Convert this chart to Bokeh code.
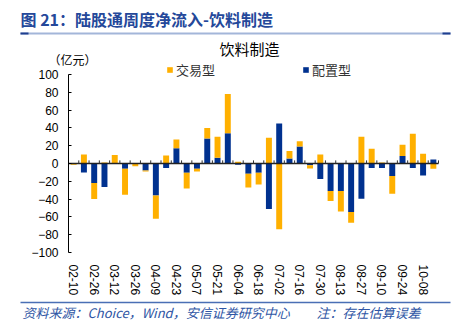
from bokeh.plotting import figure
from bokeh.models import (Range1d, FixedTicker, Label, BoxAnnotation, Span, Legend, LegendItem)
from bokeh.embed import file_html
from bokeh.resources import INLINE

# ---- data ----
tick_labels = ["02-10", "02-26", "03-12", "03-26", "04-09", "04-23", "05-07", "05-21", "06-04",
               "06-18", "07-02", "07-16", "07-30", "08-13", "08-27", "09-10", "09-24", "10-08"]
allocation = [0, -10, -22, -26.5, 0.5, -6, 0, -8, -36, -5, 17, -10.5, -6, 28, 6.5, 34, -1.5, -11.5,
              -10.5, -51, 45, 5.5, 19, -2, -17.5, -31, -31, -54.5, -39.5, -5, -5, -14, 8.5, -5, -13.5, 4.5]
trading = [-1.5, 10, -18, 1, 9, -29, -3, -1, -26, 9, 10, -17.5, -3, 12, 23.5, 44, 2, -15.5,
           -13, 29, -74, 8.5, 6, -3.5, 10, -11, -23, -12, 30, 16.5, 1, -20, 12.5, 33.5, 11, -6]
y_min, y_max = -100, 100

n = len(allocation)
xs = list(range(n))
blue_bottom = [0.0] * n
blue_top = allocation
org_bottom = []
org_top = []
for b, o in zip(allocation, trading):
    if (b >= 0 and o >= 0) or (b < 0 and o < 0):
        org_bottom.append(b)
        org_top.append(b + o)
    else:
        org_bottom.append(0.0)
        org_top.append(o)

W, H = 454, 330
PL, PR, PT, PB = 68, 438, 74, 252  # plotting area edges in canvas px

kx = (PR - PL) / n
ky = (PB - PT) / (y_max - y_min)
x_start = -0.5 - PL / kx
x_end = n - 0.5 + (W - PR) / kx
y_end = y_max + PT / ky
y_start = y_min - (H - PB) / ky

ORANGE = "#FFB000"
BLUE = "#00318F"

p = figure(width=W, height=H, output_backend="svg", toolbar_location=None,
           x_range=Range1d(x_start, x_end), y_range=Range1d(y_start, y_end),
           min_border=0, min_border_left=0, min_border_right=0, min_border_top=0, min_border_bottom=0)
p.outline_line_color = None
p.xgrid.visible = False
p.ygrid.visible = False
p.background_fill_color = "white"
p.border_fill_color = "white"

r_blue = p.vbar(x=xs, bottom=blue_bottom, top=blue_top, width=0.58, fill_color=BLUE, line_color=None)
r_org = p.vbar(x=xs, bottom=org_bottom, top=org_top, width=0.58, fill_color=ORANGE, line_color=None)

# zero line with category ticks
p.segment(x0=[-0.5], y0=[0], x1=[n - 0.5], y1=[0], line_color="#222222", line_width=1.5)
bounds = [i - 0.5 for i in range(n + 1)]
p.segment(x0=bounds, y0=[0] * len(bounds), x1=bounds, y1=[3.5] * len(bounds), line_color="#333333", line_width=1)

# axes
p.yaxis.fixed_location = -0.5
p.yaxis.bounds = (y_min, y_max)
p.yaxis.ticker = FixedTicker(ticks=list(range(y_min, y_max + 1, 20)))
p.yaxis.major_tick_in = 3
p.yaxis.major_tick_out = 0
p.yaxis.minor_tick_line_color = None
p.yaxis.axis_line_color = "black"
p.yaxis.major_tick_line_color = "black"
p.yaxis.major_label_standoff = 10
p.yaxis.major_label_text_font = "Liberation Sans"
p.yaxis.major_label_text_font_size = "12px"
p.yaxis.major_label_text_color = "black"

p.xaxis.fixed_location = y_min
p.xaxis.ticker = FixedTicker(ticks=list(range(0, n, 2)))
p.xaxis.major_label_overrides = {i * 2: lab for i, lab in enumerate(tick_labels)}
p.xaxis.major_label_orientation = "vertical"
p.xaxis.axis_line_color = None
p.xaxis.major_tick_line_color = None
p.xaxis.minor_tick_line_color = None
p.xaxis.major_label_standoff = 6
p.xaxis.major_label_text_font = "Liberation Sans"
p.xaxis.major_label_text_font_size = "12px"
p.xaxis.major_label_text_color = "black"


def sy(cy):
    return H - cy


def add_text(cx, cy, text, size, color="black", font="Noto Sans CJK SC", style="normal", align="left"):
    p.add_layout(Label(x=cx, y=sy(cy), x_units="screen", y_units="screen", text=text,
                       text_font=font, text_font_size=size, text_color=color, text_font_style=style,
                       text_align=align, text_baseline="middle"))


add_text(20, 18, "图 21：陆股通周度净流入-饮料制造", "16px", color="#24489A", style="bold")
add_text(249, 48, "饮料制造", "15px", color="black", align="center")
add_text(48, 59, "（亿元）", "12px", color="black")
add_text(22, 312, "资料来源：Choice，Wind，安信证券研究中心", "13px", color="#2E55A4", style="italic")
add_text(316, 312, "注：存在估算误差", "13px", color="#2E55A4", style="italic")


def add_hline(x0, x1, cy, thick, color):
    p.add_layout(BoxAnnotation(left=x0, right=x1, top=sy(cy - thick / 2), bottom=sy(cy + thick / 2),
                               left_units="screen", right_units="screen", top_units="screen", bottom_units="screen",
                               fill_color=color, fill_alpha=1, line_color=None))


add_hline(20, 450, 33, 2, "#A3B6D9")
add_hline(20, 28, 33, 2, "#1F3F8F")
add_hline(442, 450, 33, 2, "#1F3F8F")
add_hline(20, 450, 302, 1.5, "#4A6FB5")

legend = Legend(items=[LegendItem(label="交易型", renderers=[r_org]),
                       LegendItem(label="配置型", renderers=[r_blue])],
                orientation="horizontal", location=(166, sy(72) - 7))
legend.glyph_width = 7
legend.glyph_height = 7
legend.label_height = 14
legend.label_standoff = 3
legend.spacing = 87
legend.padding = 0
legend.margin = 0
legend.border_line_color = None
legend.background_fill_alpha = 0
legend.label_text_font = "Noto Sans CJK SC"
legend.label_text_font_size = "13px"
legend.label_text_color = "#333333"
p.add_layout(legend)

open("out.html", "w").write(file_html(p, INLINE))
